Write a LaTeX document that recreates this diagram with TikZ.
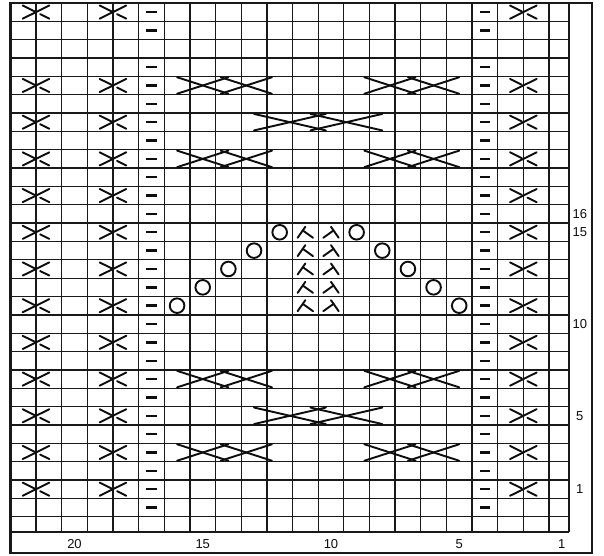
\documentclass[tikz,border=0pt]{standalone}
\usepackage{fontspec}
\setmainfont{Liberation Sans}
\usetikzlibrary{calc}
\definecolor{GridClr}{rgb}{0.1,0.1,0.1}
\definecolor{SymbClr}{rgb}{0.05,0.05,0.05}

% 1x1 cross: #1 = column boundary, #2 = row
\newcommand{\kcross}[2]{%
  \draw[symb] (#1+0.52,#2-0.36) -- (#1-0.52,#2+0.36);
  \draw[symb] (#1+0.52,#2+0.36) -- (#1+0.06,#2+0.04);
  \draw[symb] (#1-0.16,#2-0.11) -- (#1-0.52,#2-0.36);}
% wide cable: #1 left col, #2 right col, #3 row, #4 band shift
\newcommand{\kcable}[4]{%
  \draw[symb] (#1,#3-0.45) -- (#2+#4,#3+0.45);
  \draw[symb] (#1-#4,#3-0.45) -- (#2,#3+0.45);
  \draw[symb] (#1,#3+0.45) -- (#2+#4,#3-0.45);
  \draw[symb] (#1-#4,#3+0.45) -- (#2,#3-0.45);}
% decreases
\newcommand{\kdecl}[2]{%
  \draw[symb] (#1+0.3,#2-0.3) -- (#1,#2+0.3);
  \draw[symb] (#1+0.1,#2+0.1) -- (#1-0.3,#2-0.3);}
\newcommand{\kdecr}[2]{%
  \draw[symb] (#1-0.3,#2-0.3) -- (#1,#2+0.3);
  \draw[symb] (#1-0.1,#2+0.1) -- (#1+0.3,#2-0.3);}

\begin{document}
\begin{tikzpicture}[x=-25.65pt,y=18.35pt,
  gridline/.style={line width=1.3pt,color=GridClr},
  chartframe/.style={line width=2.6pt,color=GridClr},
  symb/.style={line width=1.9pt,color=SymbClr,line cap=round},
  purl/.style={line width=2.4pt,color=SymbClr},
  num/.style={font=\fontsize{13}{13}\selectfont,text=SymbClr,inner sep=0pt}]

\useasboundingbox (22.904,27.659) rectangle (-0.644,-2.640);
\fill[white] (22.904,27.659) rectangle (-0.644,-2.640);

% grid
\foreach \c in {1.5,2.5,...,21.5} {\draw[gridline] (\c,27.5) -- (\c,-1.333);}
\draw[gridline] (0.72,27.5) -- (0.72,-1.333);
\foreach \r in {-0.5,0.5,...,26.5} {\draw[gridline] (22.5,\r) -- (0.72,\r);}
\draw[gridline] (22.5,-1.333) -- (0.72,-1.333);

\draw[chartframe] (22.5,27.5) rectangle (-0.176,-2.477);

% purl columns
\foreach \r in {0,1,2,3,4,5,6,7,8,9,10,11,12,13,14,15,16,17,18,19,20,21,22,23,24,26,27} {
  \draw[purl] (17.2,\r) -- (16.8,\r);
  \draw[purl] (4.2,\r) -- (3.8,\r);}

% small crosses
\foreach \r in {1,3,5,7,9,11,13,15,17,19,21,23,27} {
  \kcross{21.5}{\r} \kcross{18.5}{\r} \kcross{2.5}{\r}}

% cables
\foreach \r in {3,7,19,23} {
  \kcable{16}{12.3}{\r}{1.7} \kcable{8.7}{5}{\r}{1.7}}
\foreach \r in {5,21} {\kcable{13}{8}{\r}{2.2}}

% eyelets
\foreach \c/\r in {16/11,15/12,14/13,13/14,12/15,9/15,8/14,7/13,6/12,5/11} {
  \draw[symb] (\c,\r) circle[radius=7.3pt];}

\foreach \r in {11,...,15} {\kdecl{11}{\r} \kdecr{10}{\r}}

% row numbers
\node[num] (r16) at (0.3,16) {16};
\node[num] (r15) at (0.3,15) {15};
\node[num] (r10) at (0.3,10) {10};
\node[num] (r5) at (0.3,5) {5};
\node[num] (r1) at (0.3,1) {1};

% stitch numbers
\node[num] (s20) at (20,-1.97) {20};
\node[num] (s15) at (15,-1.97) {15};
\node[num] (s10) at (10,-1.97) {10};
\node[num] (s5) at (5,-1.97) {5};
\node[num] (s1) at (1,-1.97) {1};

\end{tikzpicture}
\end{document}
